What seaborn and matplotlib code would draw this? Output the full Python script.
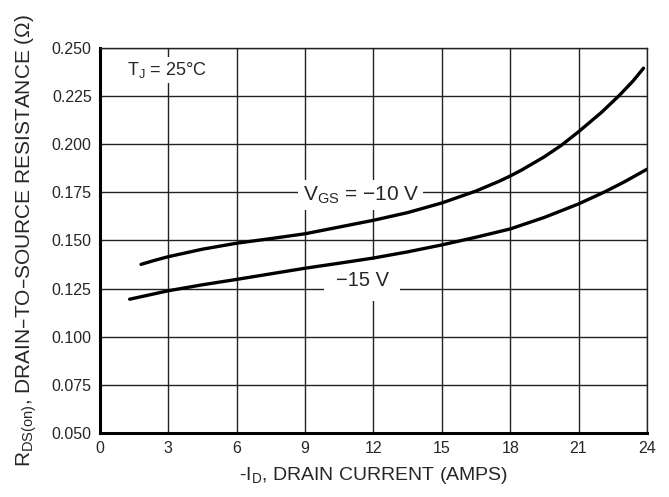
import numpy as np
import pandas as pd
import matplotlib
matplotlib.use('Agg')
import matplotlib.pyplot as plt
import seaborn as sns

# ── data ───────────────────────────────────────────────────────────────────
id_10v = [1.8, 2.4, 3, 4.5, 6, 7.5, 9, 10.5, 12, 13.5, 15, 16.5, 17.5, 18, 18.5,
          19.5, 20.25, 21, 22, 22.8, 23.4, 23.85]
rds_10v = [0.1376, 0.1397, 0.1416, 0.1455, 0.1486, 0.151, 0.1535, 0.157, 0.1605,
           0.1645, 0.1695, 0.1757, 0.1807, 0.1835, 0.1866, 0.1935, 0.1995, 0.2065,
           0.2165, 0.2255, 0.2330, 0.2395]

id_15v = [1.3, 3, 4.5, 6, 7.5, 9, 10.5, 12, 13.5, 15, 16.5, 18, 19.5, 21, 22.1,
          23, 24]
rds_15v = [0.1195, 0.1239, 0.127, 0.1298, 0.1327, 0.1356, 0.1382, 0.1409, 0.1441,
           0.1477, 0.1517, 0.1560, 0.1620, 0.1690, 0.1750, 0.1804, 0.1870]

x_ticks = [0, 3, 6, 9, 12, 15, 18, 21, 24]
y_ticks = [0.050, 0.075, 0.100, 0.125, 0.150, 0.175, 0.200, 0.225, 0.250]

# ── style ─────────────────────────────────────────────────────────────────
sns.set_style('white')
plt.rcParams.update({
    'font.family': ['Liberation Sans', 'DejaVu Sans'],
    'mathtext.default': 'regular',
    'font.size': 11,
})

df = pd.concat([
    pd.DataFrame({'id': id_10v, 'rds': rds_10v, 'vgs': '-10 V'}),
    pd.DataFrame({'id': id_15v, 'rds': rds_15v, 'vgs': '-15 V'}),
])

fig = plt.figure(figsize=(6.69, 4.97), dpi=100)
ax = fig.add_axes([0.1495, 0.1288, 0.8175, 0.7746])

sns.lineplot(data=df, x='id', y='rds', units='vgs', estimator=None, sort=False,
             color='black', linewidth=2.4, ax=ax, zorder=3, legend=False)

ax.set_xlim(0, 24)
ax.set_ylim(0.050, 0.250)
ax.set_xticks(x_ticks)
ax.set_yticks(y_ticks)
ax.set_yticklabels([f'{v:.3f}' for v in y_ticks])
ax.set_axisbelow(True)
ax.grid(True, color='#222222', linewidth=1.0)
ax.tick_params(length=0, labelsize=11.5, pad=6)

for side in ['top', 'right']:
    ax.spines[side].set_linewidth(1.0)
    ax.spines[side].set_color('#222222')
for side in ['left', 'bottom']:
    ax.spines[side].set_linewidth(2.2)
    ax.spines[side].set_color('black')

ax.set_xlabel('-I$_{D}$, DRAIN CURRENT (AMPS)', fontsize=14, labelpad=6)
ax.set_ylabel('R$_{DS(on)}$, DRAIN–TO–SOURCE RESISTANCE (Ω)', fontsize=15, labelpad=9)

# labels sit on white patches that break the grid, curves stay on top
ax.text(1.2, 0.2385, 'T$_{J}$ = 25°C', fontsize=13, ha='left', va='center',
        bbox=dict(facecolor='white', edgecolor='none', pad=2), zorder=2)
ax.text(11.45, 0.1735, 'V$_{GS}$ = −10 V', fontsize=15, ha='center', va='center',
        bbox=dict(facecolor='white', edgecolor='none', pad=3), zorder=2)
ax.text(11.5, 0.129, '−15 V', fontsize=14.5, ha='center', va='center',
        bbox=dict(facecolor='white', edgecolor='none', pad=8), zorder=2)

fig.savefig('out.png', dpi=100)
